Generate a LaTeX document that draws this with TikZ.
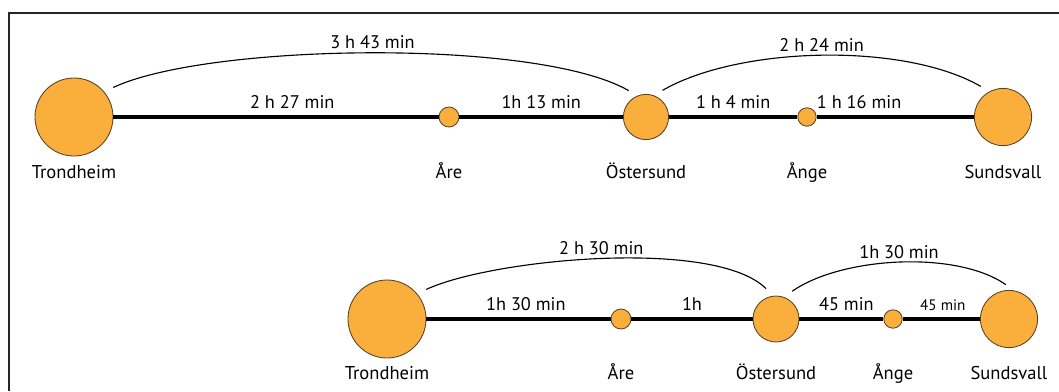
\documentclass[tikz,border=0pt]{standalone}
\usepackage{fontspec}
\setmainfont{PT Sans}
\usetikzlibrary{positioning}
\definecolor{cityfill}{RGB}{250,174,59}
\definecolor{cityline}{RGB}{85,65,40}

\begin{document}
\begin{tikzpicture}[x=0.025cm,y=0.025cm,
    city/.style={circle,draw=cityline,fill=cityfill,line width=0.6pt,inner sep=0pt,minimum size=#1},
    rail/.style={line width=2.2pt},
    bow/.style={line width=0.8pt,shorten <=0.25cm,shorten >=0.25cm},
    dur/.style={font=\fontsize{13}{15}\selectfont},
    place/.style={anchor=base,font=\fontsize{13.2}{15}\selectfont}
    ]

    \useasboundingbox (0,0) rectangle (1059,391);
    \draw[line width=1.4pt,black!85] (1059,378) -- (9,378) -- (9,0);

    % upper row
    \foreach \n/\x/\size/\txt in {t/74/1.95cm/Trondheim,a/449/0.5cm/Åre,o/646/1.13cm/Östersund,n/807/0.46cm/Ånge,s/1003/1.43cm/Sundsvall}
      {\node(\n1) [city=\size] at (\x,274) {};
       \node(\n1name) [place] at (\x,213) {\txt};}

    % lower row
    \foreach \n/\x/\size/\txt in {t/387/1.95cm/Trondheim,a/621/0.5cm/Åre,o/776/1.15cm/Östersund,n/893/0.46cm/Ånge,s/1009/1.43cm/Sundsvall}
      {\node(\n2) [city=\size] at (\x,72) {};
       \node(\n2name) [place] at (\x,12) {\txt};}

    \draw[rail] (t1) -- node[dur,above=1.5pt,pos=.55] {2 h 27 min} (a1);
    \draw[rail] (a1) -- node[dur,above=1.5pt] {1h 13 min} (o1);
    \draw[rail] (o1) -- node[dur,above=1.5pt] {1 h 4 min} (n1);
    \draw[rail] (n1) -- node[dur,above=1.5pt,pos=.27] {1 h 16 min} (s1);

    \draw[bow] (t1.40) to[out=25,in=150,looseness=.55] node[dur,above] {3 h 43 min} (o1.112);
    \draw[bow] (o1.70) to[out=30,in=150,looseness=.75] node[dur,above] {2 h 24 min} (s1.118);

    \draw[rail] (t2) -- node[dur,above=1.5pt,pos=.54] {1h 30 min} (a2);
    \draw[rail] (a2) -- node[dur,above=1.5pt] {1h} (o2);
    \draw[rail] (o2) -- node[dur,above=1.5pt,pos=.56] {45 min} (n2);
    \draw[rail] (n2) -- node[above=1.5pt,pos=.52,font=\fontsize{10.8}{12}\selectfont] {45 min} (s2);

    \draw[bow] (t2.40) to[out=25,in=135,looseness=.59] node[dur,above] {2 h 30 min} (o2.97);
    \draw[bow] (o2.70) to[out=35,in=145,looseness=.78] node[dur,above] {1h 30 min} (s2.80);

\end{tikzpicture}
\end{document}
